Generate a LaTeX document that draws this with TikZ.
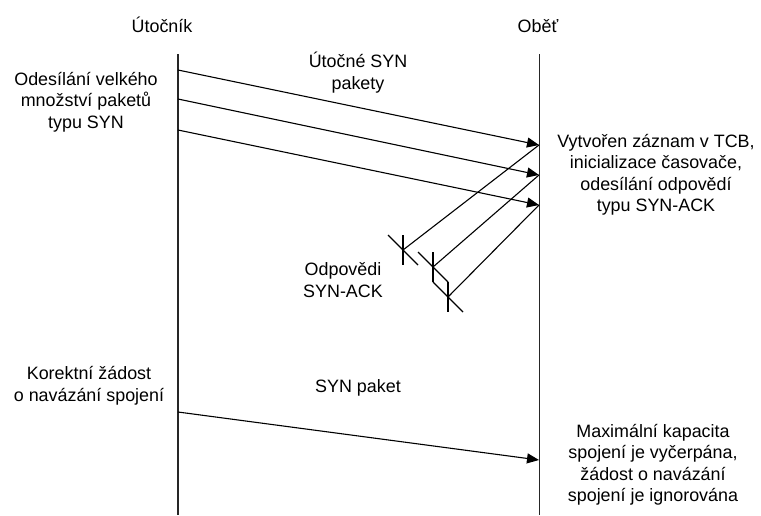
\documentclass[tikz,border=0pt]{standalone}
\usepackage{fontspec}
\setmainfont{Liberation Sans}
\usetikzlibrary{arrows.meta}
\begin{document}
\begin{tikzpicture}[x=1pt,y=-1pt,
  lifeline/.style={line width=1.3pt,draw=black!85},
  msg/.style={line width=1.1pt,-{Triangle[length=12pt,width=10pt]}},
  reply/.style={line width=1.1pt},
  crossmark/.style={line width=1.1pt},
  lbl/.style={inner sep=0pt,align=center,font=\fontsize{17.9}{21.5}\selectfont}]
\useasboundingbox (0,0) rectangle (761,515);
% lifelines
\coordinate (A0) at (178,54);
\coordinate (A1) at (178,515);
\coordinate (B0) at (539.5,54);
\coordinate (B1) at (539.5,515);
\draw[lifeline] (A0) -- (A1);
\draw[lifeline] (B0) -- (B1);
% titles
\node[lbl,anchor=base] (tA) at (162,32) {Útočník};
\node[lbl,anchor=base] (tB) at (538,32) {Oběť};
% attack SYN packets
\coordinate (s1) at (178,70);
\coordinate (s2) at (178,99);
\coordinate (s3) at (178,130);
\coordinate (r1) at (539,145);
\coordinate (r2) at (539,175);
\coordinate (r3) at (539,205);
\draw[msg] (s1) -- (r1);
\draw[msg] (s2) -- (r2);
\draw[msg] (s3) -- (r3);
% SYN-ACK replies (lost)
\coordinate (e1) at (403,250);
\coordinate (e2) at (433,267);
\coordinate (e3) at (448,297);
\draw[reply] (r1) -- (e1);
\draw[reply] (r2) -- (e2);
\draw[reply] (r3) -- (e3);
\foreach \c in {e1,e2,e3}{
  \draw[crossmark] (\c) ++(0,-15) -- ++(0,30);
  \draw[crossmark] (\c) ++(-15,-15) -- ++(30,30);
}
% legitimate SYN
\coordinate (s4) at (178,412);
\coordinate (r4) at (539,460);
\draw[msg] (s4) -- (r4);
% labels
\node[lbl] (l1) at (86,102) {Odesílání velkého\\množství paketů\\typu SYN};
\node[lbl] (l2) at (358,72.5) {Útočné SYN\\pakety};
\node[lbl] (l3) at (656,175) {Vytvořen záznam v TCB,\\inicializace časovače,\\odesílání odpovědí\\typu SYN-ACK};
\node[lbl] (l4) at (343,280) {Odpovědi\\SYN-ACK};
\node[lbl] (l5) at (89,386) {Korektní žádost\\o navázání spojení};
\node[lbl] (l6) at (358,388) {SYN paket};
\node[lbl] (l7) at (653,465) {Maximální kapacita\\spojení je vyčerpána,\\žádost o navázání\\spojení je ignorována};
\end{tikzpicture}
\end{document}
